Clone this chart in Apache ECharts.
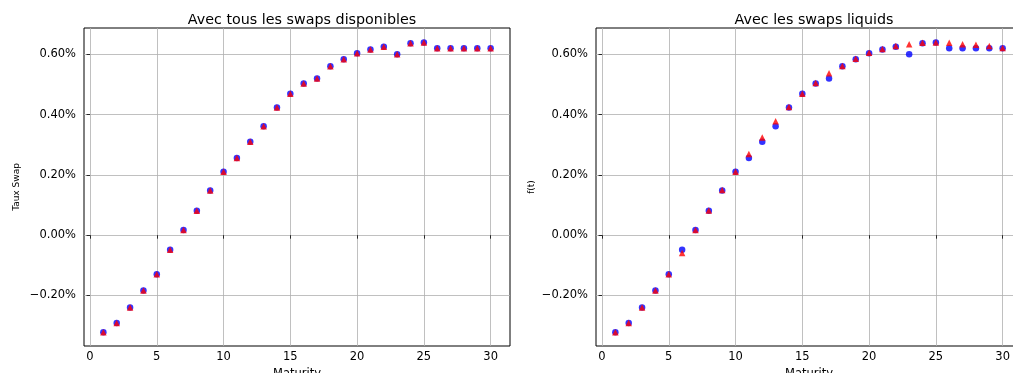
<!DOCTYPE html>
<html>
<head>
<meta charset="utf-8">
<script src="https://cdn.jsdelivr.net/npm/echarts@6/dist/echarts.min.js"></script>
<style>
html,body{margin:0;padding:0;background:#fff;}
#chart{width:1013px;height:373px;}
</style>
</head>
<body>
<div id="chart"></div>
<script>
// ---- data (values in percent) ----
const maturities = [1,2,3,4,5,6,7,8,9,10,11,12,13,14,15,16,17,18,19,20,21,22,23,24,25,26,27,28,29,30];
const marketSwaps = [-0.322,-0.292,-0.240,-0.184,-0.130,-0.048,0.017,0.081,0.148,0.211,0.256,0.310,0.362,0.424,0.470,0.504,0.520,0.561,0.584,0.604,0.617,0.626,0.601,0.637,0.640,0.621,0.621,0.621,0.621,0.621];
const fitAllSwaps = [-0.322,-0.292,-0.240,-0.184,-0.130,-0.048,0.017,0.081,0.148,0.211,0.256,0.310,0.362,0.424,0.470,0.504,0.520,0.561,0.584,0.604,0.617,0.626,0.601,0.637,0.640,0.621,0.621,0.621,0.621,0.621];
const fitLiquidSwaps = [-0.322,-0.292,-0.240,-0.184,-0.130,-0.059,0.017,0.082,0.150,0.211,0.270,0.324,0.378,0.426,0.470,0.505,0.538,0.562,0.586,0.606,0.618,0.628,0.634,0.639,0.640,0.639,0.634,0.632,0.628,0.622];
const titles = ["Avec tous les swaps disponibles", "Avec les swaps liquids"];
const yNames = ["Taux Swap", "f(t)"];
const xName = "Maturity";
const xTickValues = [0,5,10,15,20,25,30];
const yTickValues = [-0.2, 0, 0.2, 0.4, 0.6];

const FONT = "DejaVu Sans";
const pair = (xs, ys) => xs.map((x, i) => [x, ys[i]]);
const fmtPct = v => {
  const r = Math.round(v * 100) / 100;
  return (r < 0 ? "\u2212" : "") + Math.abs(r).toFixed(2) + "%";
};

const chart = echarts.init(document.getElementById("chart"), null, {renderer: "canvas"});

function xAxis(gi) {
  return {
    type: "value", gridIndex: gi, min: -0.45, max: 31.45, interval: 5,
    name: xName, nameLocation: "middle", nameGap: 21,
    nameTextStyle: {fontFamily: FONT, fontSize: 11.5, color: "#000"},
    axisLine: {show: false},
    axisTick: {show: true, length: 3.5, inside: false, lineStyle: {color: "#000", width: 0.8}, customValues: xTickValues},
    axisLabel: {fontFamily: FONT, fontSize: 11.5, color: "#000", margin: 5, customValues: xTickValues},
    splitLine: {show: true, lineStyle: {color: "#b0b0b0", width: 0.8}}
  };
}
function yAxis(gi, nameGap) {
  return {
    type: "value", gridIndex: gi, min: -0.368, max: 0.688, interval: 0.2,
    name: yNames[gi], nameLocation: "middle", nameGap: nameGap, nameRotate: 90,
    nameTextStyle: {fontFamily: FONT, fontSize: 9, color: "#000"},
    axisLine: {show: false},
    axisTick: {show: true, length: 3.5, lineStyle: {color: "#000", width: 0.8}, customValues: yTickValues},
    axisLabel: {fontFamily: FONT, fontSize: 11.5, color: "#000", margin: 8, formatter: fmtPct, customValues: yTickValues},
    splitLine: {show: true, lineStyle: {color: "#b0b0b0", width: 0.8}}
  };
}

const option = {
  backgroundColor: "#fff",
  animation: false,
  title: [
    {text: titles[0], left: 297, top: 8, textAlign: "center", textStyle: {fontFamily: FONT, fontSize: 14.3, fontWeight: "normal", color: "#000"}},
    {text: titles[1], left: 809, top: 8, textAlign: "center", textStyle: {fontFamily: FONT, fontSize: 14.3, fontWeight: "normal", color: "#000"}}
  ],
  grid: [
    {left: 84, top: 28, width: 426, height: 318, show: true, borderColor: "#000", borderWidth: 1, backgroundColor: "transparent", outerBoundsMode: "none", containLabel: false},
    {left: 596, top: 28, width: 426, height: 318, show: true, borderColor: "#000", borderWidth: 1, backgroundColor: "transparent", outerBoundsMode: "none", containLabel: false}
  ],
  xAxis: [xAxis(0), xAxis(1)],
  yAxis: [yAxis(0, 63), yAxis(1, 60)],
  series: [
    {type: "scatter", xAxisIndex: 0, yAxisIndex: 0, data: pair(maturities, marketSwaps), symbol: "circle", symbolSize: 6.5, itemStyle: {color: "#0000ff"}},
    {type: "scatter", xAxisIndex: 0, yAxisIndex: 0, data: pair(maturities, fitAllSwaps), symbol: "triangle", symbolSize: 6.5, itemStyle: {color: "#ff0000"}},
    {type: "scatter", xAxisIndex: 1, yAxisIndex: 1, data: pair(maturities, marketSwaps), symbol: "circle", symbolSize: 6.5, itemStyle: {color: "#0000ff"}},
    {type: "scatter", xAxisIndex: 1, yAxisIndex: 1, data: pair(maturities, fitLiquidSwaps), symbol: "triangle", symbolSize: 6.5, itemStyle: {color: "#ff0000"}}
  ]
};
chart.setOption(option);
</script>
</body>
</html>
